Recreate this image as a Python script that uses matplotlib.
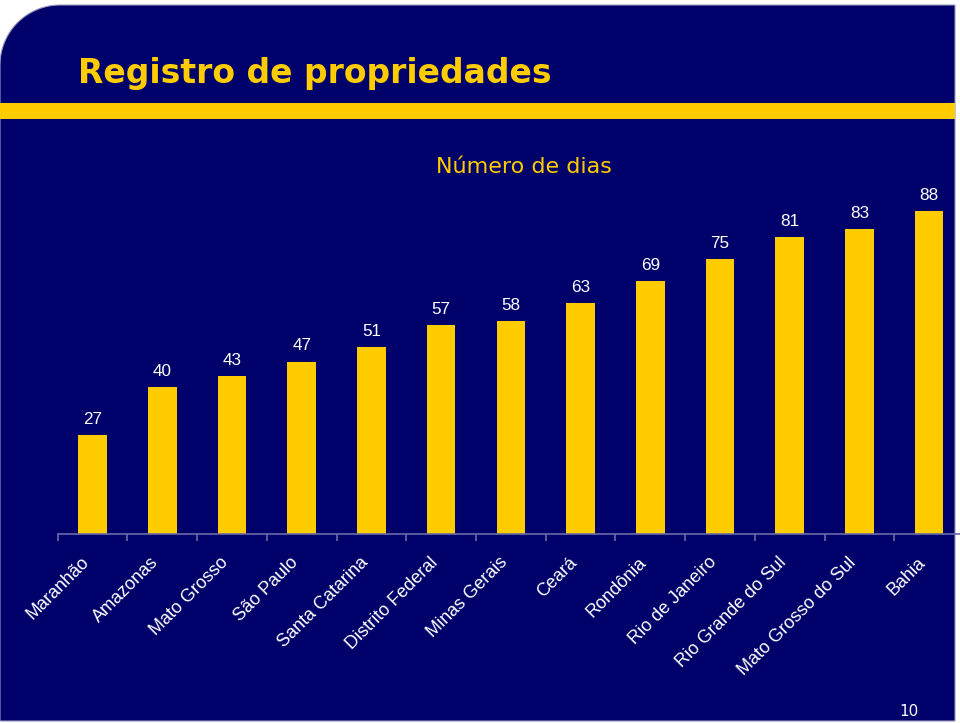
import matplotlib.pyplot as plt
from matplotlib.path import Path
from matplotlib.patches import PathPatch, Rectangle
from matplotlib.transforms import blended_transform_factory, ScaledTranslation
import numpy as np

# data
states = ['Maranhão', 'Amazonas', 'Mato Grosso', 'São Paulo', 'Santa Catarina',
          'Distrito Federal', 'Minas Gerais', 'Ceará', 'Rondônia', 'Rio de Janeiro',
          'Rio Grande do Sul', 'Mato Grosso do Sul', 'Bahia']
days = [27, 40, 43, 47, 51, 57, 58, 63, 69, 75, 81, 83, 88]

NAVY = '#00006a'
YELLOW = '#ffcc00'
W, H = 960, 723

fig = plt.figure(figsize=(9.6, 7.23), dpi=100, facecolor='white')

# background panel with rounded top-left corner (pixel coords -> figure fraction)
def fx(px):
    return px / W

def fy(py):
    return 1 - py / H

r = 60
left, top, right, bottom = 0, 5, 955, 721
theta = np.linspace(np.pi, np.pi / 2, 30)
arc = [(fx(left + r + r * np.cos(t)), fy(top + r - r * np.sin(t))) for t in theta]
verts = [(fx(left), fy(bottom))] + arc + [(fx(right), fy(top)), (fx(right), fy(bottom)), (fx(left), fy(bottom))]
codes = [Path.MOVETO] + [Path.LINETO] * (len(verts) - 2) + [Path.CLOSEPOLY]
panel = PathPatch(Path(verts, codes), transform=fig.transFigure, facecolor=NAVY,
                  edgecolor='#9999bb', linewidth=0.8, zorder=-2)
fig.patches.append(panel)

# yellow band under the title
fig.patches.append(Rectangle((fx(0), fy(119)), fx(955), 16 / H, transform=fig.transFigure,
                             facecolor=YELLOW, edgecolor='none', zorder=-1))

fig.text(fx(78), fy(83), 'Registro de propriedades', color=YELLOW, fontsize=23.8,
         fontweight='bold', family='DejaVu Sans', va='baseline', ha='left')
fig.text(fx(524), fy(173), 'Número de dias', color=YELLOW, fontsize=16,
         family='DejaVu Sans', va='baseline', ha='center')
fig.text(fx(909), fy(716), '10', color='white', fontsize=11,
         family='DejaVu Sans', va='baseline', ha='center')

# chart area
ax = fig.add_axes([fx(57.7), 1 - 534 / H, (964 - 57.7) / W, (534 - 167) / H])
ax.set_facecolor('none')
x = np.arange(len(states))
ax.bar(x, days, width=0.41, color=YELLOW, zorder=2)
ax.set_xlim(-0.5, len(states) - 0.5)
ax.set_ylim(0, 100)

for s in ['top', 'right', 'left']:
    ax.spines[s].set_visible(False)
ax.spines['bottom'].set_color('#6a6aaa')
ax.spines['bottom'].set_linewidth(1.2)
ax.set_yticks([])
ax.set_xticks(x)
ax.set_xticklabels([])
ax.tick_params(axis='x', which='major', length=0)
ax.set_xticks(np.arange(len(states) + 1) - 0.5, minor=True)
ax.tick_params(axis='x', which='minor', length=5, color='#6a6aaa', width=1.2, direction='out')

# value labels
for xi, v in zip(x, days):
    ax.annotate(str(v), (xi, v), xytext=(0, 8), textcoords='offset points',
                ha='center', va='baseline', color='white', fontsize=12.3,
                family='Liberation Sans')

# rotated category labels
trans = blended_transform_factory(ax.transData, ax.transAxes) + \
    ScaledTranslation(-12 / 100, -20 / 100, fig.dpi_scale_trans)
for xi, name in zip(x, states):
    ax.text(xi, 0, name, transform=trans, rotation=45, rotation_mode='anchor',
            ha='right', va='top', color='white', fontsize=13, family='Liberation Sans')

fig.savefig('out.png', dpi=100, facecolor='white')
